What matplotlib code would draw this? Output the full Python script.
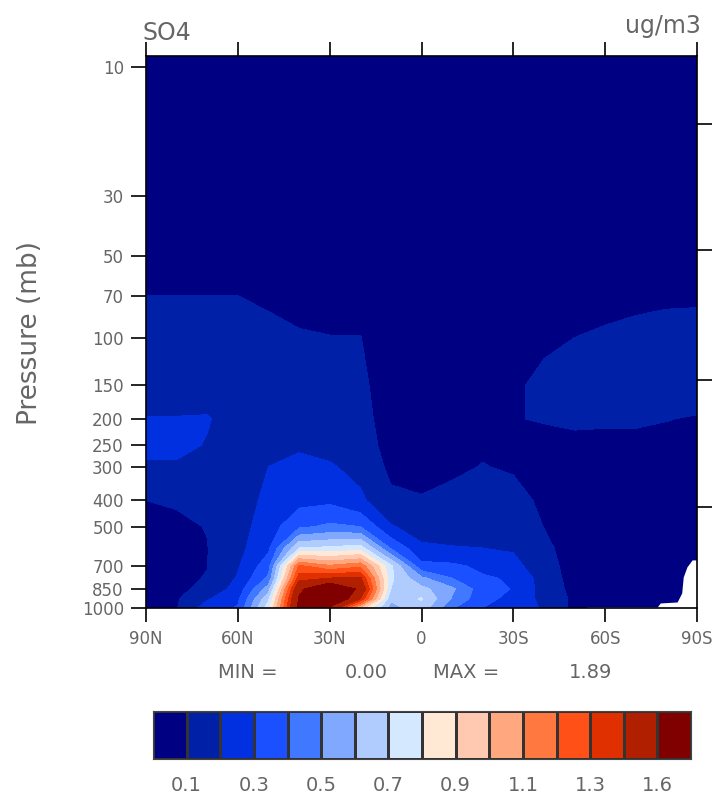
import numpy as np
import matplotlib
matplotlib.use('Agg')
from matplotlib import pyplot as plt
from matplotlib.colors import ListedColormap, BoundaryNorm

lats = [90, 80, 70, 60, 50, 40, 30, 20, 10, 0, -10, -20, -30, -40, -50, -60, -70, -80, -90]
pres = [1000, 925, 850, 775, 700, 600, 500, 400, 300, 250, 200, 150, 100, 70, 50, 30, 10, 9]

# so4 by pressure level (rows) and latitude (columns)
so4 = np.array([
    [.06, .095, .25, .31, .76, 1.65, 1.55, .95, .56, .66, .41, .30, .25, .19, .075, .05, .05, .05, .05],
    [.06, .09, .19, .28, .68, 1.62, 1.89, 1.40, .62, .71, .49, .33, .27, .17, .08, .05, .05, .05, .05],
    [.06, .08, .125, .24, .55, 1.55, 1.85, 1.55, .70, .63, .52, .34, .295, .16, .07, .05, .05, .05, .05],
    [.06, .08, .105, .21, .42, 1.35, 1.40, 1.42, .72, .52, .40, .31, .29, .15, .065, .05, .05, .05, .05],
    [.07, .08, .098, .19, .36, 1.22, 1.12, 1.18, .72, .33, .32, .28, .23, .14, .06, .05, .05, .05, .05],
    [.08, .085, .098, .17, .28, .70, .72, .75, .39, .22, .205, .20, .19, .12, .06, .05, .05, .05, .05],
    [.085, .09, .102, .16, .25, .38, .42, .40, .21, .15, .16, .16, .165, .098, .06, .05, .05, .05, .05],
    [.10, .105, .13, .16, .22, .27, .28, .22, .12, .105, .125, .13, .135, .08, .06, .055, .055, .055, .055],
    [.19, .19, .165, .16, .20, .22, .21, .17, .08, .08, .085, .103, .09, .075, .065, .06, .06, .06, .06],
    [.22, .22, .195, .16, .16, .19, .17, .14, .07, .07, .07, .09, .085, .085, .085, .08, .08, .08, .075],
    [.203, .203, .205, .17, .14, .16, .14, .13, .06, .06, .065, .075, .098, .103, .11, .11, .11, .102, .095],
    [.17, .17, .17, .15, .13, .14, .12, .12, .05, .05, .06, .07, .09, .115, .12, .125, .13, .125, .13],
    [.13, .13, .13, .13, .12, .11, .103, .102, .05, .05, .05, .06, .08, .09, .10, .11, .12, .125, .13],
    [.10, .10, .10, .10, .09, .07, .06, .06, .04, .04, .04, .05, .05, .05, .07, .08, .085, .09, .09],
    [.06, .06, .06, .06, .05, .04, .035, .035, .03, .03, .03, .03, .03, .03, .04, .04, .05, .05, .05],
    [.03, .03, .03, .03, .03, .02, .02, .02, .02, .02, .02, .02, .02, .02, .02, .02, .03, .03, .03],
    [.01, .01, .01, .01, .01, .01, .01, .01, .01, .01, .01, .01, .01, .01, .01, .01, .01, .01, .01],
    [.01, .01, .01, .01, .01, .01, .01, .01, .01, .01, .01, .01, .01, .01, .01, .01, .01, .01, .01],
])

# surface pressure at the south pole end, below this there is no data
ground_lat = [-54, -77, -78, -83.5, -85, -85.5, -86.7, -88.4, -90]
ground_p = [991, 991, 958, 950, 880, 768, 705, 664, 664]

levels = [0, .1, .2, .3, .4, .5, .6, .7, .8, .9, 1.0, 1.1, 1.2, 1.3, 1.4, 1.6, 3]
colors = ['#000083', '#0020a8', '#0030e0', '#1a50ff', '#4078ff', '#80a8ff', '#b0ccff', '#d4e8ff',
          '#ffe8d4', '#ffc8b0', '#ffa880', '#ff7840', '#ff5018', '#e03000', '#b02000', '#800000']

p_ticks = [10, 30, 50, 70, 100, 150, 200, 250, 300, 400, 500, 700, 850, 1000]
right_ticks = [16.2, 47.4, 143.5, 423]
lat_ticks = [90, 60, 30, 0, -30, -60, -90]
lat_labels = ['90N', '60N', '30N', '0', '30S', '60S', '90S']
lat_minor = [80, 70, 50, 40, 20, 10, -10, -20, -40, -50, -70, -80]
bar_labels = ['0.1', '0.3', '0.5', '0.7', '0.9', '1.1', '1.3', '1.6']

W, H = 722.0, 797.0
grey = '#666666'
fig = plt.figure(figsize=(7.22, 7.97), dpi=100)

ax = fig.add_axes([146/W, 1-608/H, 551/W, 552/H])
ax.contourf(lats, pres, so4, levels=levels, colors=colors)
ax.fill_between(ground_lat, ground_p, 1000, color='white', lw=0, zorder=3)
ax.set_yscale('log')
ax.set_xlim(90, -90)
ax.set_ylim(1000, 9.1)

ax.set_xticks(lat_ticks, lat_labels)
ax.set_xticks(lat_minor, minor=True)
ax.set_yticks(p_ticks, [str(p) for p in p_ticks])
ax.minorticks_off()
ax.set_xticks(lat_minor, minor=True)
ax.tick_params(axis='x', which='major', top=True, length=10, width=1.2, labelsize=12,
               labelcolor=grey, pad=6)
ax.tick_params(axis='x', which='minor', top=True, length=5, width=0.8)
ax.tick_params(axis='y', which='major', length=11, width=1.2, labelsize=12, labelcolor=grey, pad=5)
for s in ax.spines.values():
    s.set_linewidth(1.2)
    s.set_zorder(5)

ax2 = ax.twinx()
ax2.set_yscale('log')
ax2.set_ylim(1000, 9.1)
ax2.set_yticks(right_ticks, ['']*4)
ax2.minorticks_off()
ax2.tick_params(axis='y', length=11, width=1.2)
for s in ax2.spines.values():
    s.set_visible(False)

fig.text(143/W, 1-40/H, 'SO4', fontsize=17, color=grey, ha='left', va='baseline')
fig.text(701/W, 1-33/H, 'ug/m3', fontsize=17, color=grey, ha='right', va='baseline')
fig.text(30/W, 1-333/H, 'Pressure (mb)', fontsize=19, color=grey, rotation=90, ha='center', va='center')
fig.text(218/W, 1-673/H, 'MIN =', fontsize=14, color=grey, ha='left', va='center')
fig.text(345/W, 1-673/H, '0.00', fontsize=14, color=grey, ha='left', va='center')
fig.text(433/W, 1-673/H, 'MAX =', fontsize=14, color=grey, ha='left', va='center')
fig.text(569/W, 1-673/H, '1.89', fontsize=14, color=grey, ha='left', va='center')

# colour bar
cax = fig.add_axes([153/W, 1-759/H, 538/W, 48/H])
cmap = ListedColormap(colors)
norm = BoundaryNorm(np.arange(17), 16)
cax.pcolormesh(np.arange(17), [0, 1], np.arange(16).reshape(1, 16), cmap=cmap, norm=norm,
               edgecolors='#333333', linewidth=0.8)
cax.set_yticks([])
cax.set_xticks(np.arange(1, 16, 2), bar_labels)
cax.tick_params(axis='x', length=0, labelsize=14, labelcolor=grey, pad=12)
for s in cax.spines.values():
    s.set_color('#444444')
    s.set_linewidth(0.8)

fig.savefig('out.png', dpi=100)
